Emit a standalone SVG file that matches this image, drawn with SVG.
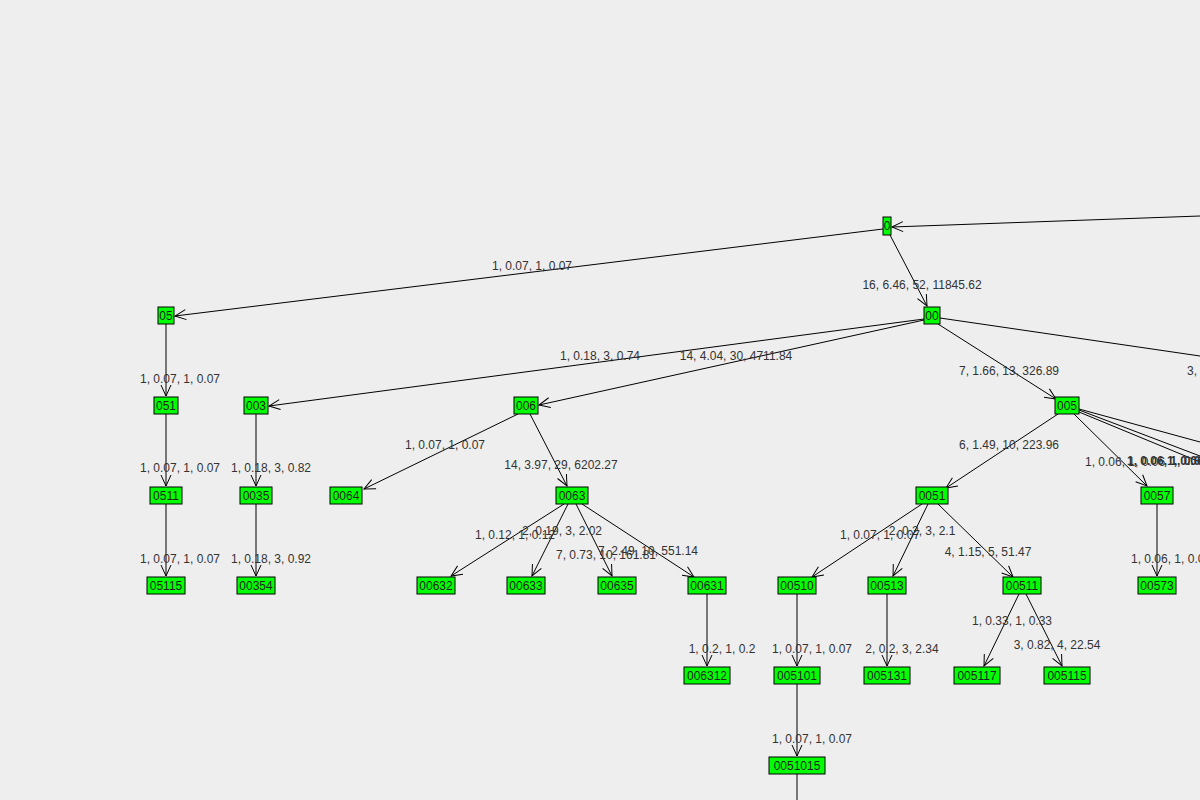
<svg xmlns="http://www.w3.org/2000/svg" width="1200" height="800" viewBox="0 0 1200 800">
<style>
.n rect{fill:#00ff00;stroke:#000;stroke-width:1}
.n text{font-family:"Liberation Sans",Arial,sans-serif;font-size:12px;fill:#222;text-anchor:middle}
.e line{stroke:#000;stroke-width:1}
.l{font-family:"Liberation Sans",Arial,sans-serif;font-size:12px;fill:#333;text-anchor:middle}
</style>
<defs>
<marker id="a" markerWidth="14" markerHeight="14" refX="12" refY="7" orient="auto" markerUnits="userSpaceOnUse">
<path d="M1,2 L12,7 L1,12" fill="none" stroke="#000" stroke-width="1"/>
</marker>
</defs>
<rect width="1200" height="800" fill="#eeeeee"/>
<g class="e">
<line x1="1200" y1="216" x2="892" y2="227" marker-end="url(#a)"/>
<line x1="883" y1="229" x2="175" y2="316" marker-end="url(#a)"/>
<line x1="890" y1="235" x2="927" y2="306" marker-end="url(#a)"/>
<line x1="166" y1="324" x2="166" y2="396" marker-end="url(#a)"/>
<line x1="924" y1="319" x2="269" y2="406" marker-end="url(#a)"/>
<line x1="924" y1="320" x2="539" y2="405" marker-end="url(#a)"/>
<line x1="938" y1="324" x2="1056" y2="399" marker-end="url(#a)"/>
<line x1="940" y1="318" x2="1200" y2="356"/>
<line x1="166" y1="414" x2="166" y2="486" marker-end="url(#a)"/>
<line x1="256" y1="414" x2="256" y2="486" marker-end="url(#a)"/>
<line x1="518" y1="414" x2="364" y2="489" marker-end="url(#a)"/>
<line x1="530" y1="414" x2="567" y2="486" marker-end="url(#a)"/>
<line x1="1058" y1="414" x2="946" y2="488" marker-end="url(#a)"/>
<line x1="1074" y1="414" x2="1147" y2="486" marker-end="url(#a)"/>
<line x1="1079" y1="412" x2="1200" y2="462"/>
<line x1="1079" y1="410" x2="1200" y2="456"/>
<line x1="1079" y1="409" x2="1200" y2="442"/>
<line x1="166" y1="504" x2="166" y2="576" marker-end="url(#a)"/>
<line x1="256" y1="504" x2="256" y2="576" marker-end="url(#a)"/>
<line x1="564" y1="504" x2="451" y2="576" marker-end="url(#a)"/>
<line x1="568" y1="504" x2="532" y2="576" marker-end="url(#a)"/>
<line x1="576" y1="504" x2="612" y2="576" marker-end="url(#a)"/>
<line x1="582" y1="504" x2="694" y2="577" marker-end="url(#a)"/>
<line x1="922" y1="504" x2="812" y2="577" marker-end="url(#a)"/>
<line x1="928" y1="504" x2="893" y2="576" marker-end="url(#a)"/>
<line x1="938" y1="504" x2="1013" y2="577" marker-end="url(#a)"/>
<line x1="1157" y1="504" x2="1157" y2="576" marker-end="url(#a)"/>
<line x1="707" y1="594" x2="707" y2="666" marker-end="url(#a)"/>
<line x1="797" y1="594" x2="797" y2="666" marker-end="url(#a)"/>
<line x1="887" y1="594" x2="887" y2="666" marker-end="url(#a)"/>
<line x1="1019" y1="594" x2="984" y2="666" marker-end="url(#a)"/>
<line x1="1026" y1="594" x2="1062" y2="666" marker-end="url(#a)"/>
<line x1="797" y1="684" x2="797" y2="756" marker-end="url(#a)"/>
<line x1="797" y1="774" x2="797" y2="800"/>
</g>
<g>
<text class="l" x="532" y="270">1, 0.07, 1, 0.07</text>
<text class="l" x="922" y="289">16, 6.46, 52, 11845.62</text>
<text class="l" x="600" y="360">1, 0.18, 3, 0.74</text>
<text class="l" x="736" y="360">14, 4.04, 30, 4711.84</text>
<text class="l" x="1009" y="375">7, 1.66, 13, 326.89</text>
<text class="l" x="1187" y="375" style="text-anchor:start">3, 1</text>
<text class="l" x="180" y="383">1, 0.07, 1, 0.07</text>
<text class="l" x="445" y="449">1, 0.07, 1, 0.07</text>
<text class="l" x="561" y="469">14, 3.97, 29, 6202.27</text>
<text class="l" x="1009" y="449">6, 1.49, 10, 223.96</text>
<text class="l" x="1085" y="466" style="text-anchor:start">1, 0.06, 1, 0.06</text>
<text class="l" x="1127" y="465" style="text-anchor:start;font-weight:bold">1, 0.06, 1, 0.06</text>
<text class="l" x="1167" y="465" style="text-anchor:start;font-weight:bold">1, 0.06</text>
<text class="l" x="180" y="472">1, 0.07, 1, 0.07</text>
<text class="l" x="271" y="472">1, 0.18, 3, 0.82</text>
<text class="l" x="515" y="539">1, 0.12, 1, 0.12</text>
<text class="l" x="562" y="535">2, 0.19, 3, 2.02</text>
<text class="l" x="606" y="559">7, 0.73, 10, 161.81</text>
<text class="l" x="648" y="555">7, 2.49, 10, 551.14</text>
<text class="l" x="880" y="539">1, 0.07, 1, 0.07</text>
<text class="l" x="922" y="535">2, 0.2, 3, 2.1</text>
<text class="l" x="988" y="556">4, 1.15, 5, 51.47</text>
<text class="l" x="1131" y="563" style="text-anchor:start">1, 0.06, 1, 0.06</text>
<text class="l" x="180" y="563">1, 0.07, 1, 0.07</text>
<text class="l" x="271" y="563">1, 0.18, 3, 0.92</text>
<text class="l" x="1012" y="625">1, 0.33, 1, 0.33</text>
<text class="l" x="1057" y="649">3, 0.82, 4, 22.54</text>
<text class="l" x="722" y="653">1, 0.2, 1, 0.2</text>
<text class="l" x="812" y="653">1, 0.07, 1, 0.07</text>
<text class="l" x="902" y="653">2, 0.2, 3, 2.34</text>
<text class="l" x="812" y="743">1, 0.07, 1, 0.07</text>
</g>
<g id="n0" class="n"><rect x="883" y="217" width="8" height="18"/><text x="887" y="230">0</text></g>
<g id="n05" class="n"><rect x="158" y="307" width="16" height="17"/><text x="166" y="320">05</text></g>
<g id="n00" class="n"><rect x="924" y="307" width="16" height="17"/><text x="932" y="320">00</text></g>
<g id="n051" class="n"><rect x="154" y="397" width="24" height="17"/><text x="166" y="410">051</text></g>
<g id="n003" class="n"><rect x="244" y="397" width="24" height="17"/><text x="256" y="410">003</text></g>
<g id="n006" class="n"><rect x="514" y="397" width="24" height="17"/><text x="526" y="410">006</text></g>
<g id="n005" class="n"><rect x="1055" y="397" width="24" height="17"/><text x="1067" y="410">005</text></g>
<g id="n0511" class="n"><rect x="150" y="487" width="32" height="17"/><text x="166" y="500">0511</text></g>
<g id="n0035" class="n"><rect x="240" y="487" width="32" height="17"/><text x="256" y="500">0035</text></g>
<g id="n0064" class="n"><rect x="330" y="487" width="32" height="17"/><text x="346" y="500">0064</text></g>
<g id="n0063" class="n"><rect x="556" y="487" width="32" height="17"/><text x="572" y="500">0063</text></g>
<g id="n0051" class="n"><rect x="916" y="487" width="32" height="17"/><text x="932" y="500">0051</text></g>
<g id="n0057" class="n"><rect x="1141" y="487" width="32" height="17"/><text x="1157" y="500">0057</text></g>
<g id="n05115a" class="n"><rect x="147" y="577" width="38" height="17"/><text x="166" y="590">05115</text></g>
<g id="n00354" class="n"><rect x="237" y="577" width="38" height="17"/><text x="256" y="590">00354</text></g>
<g id="n00632" class="n"><rect x="417" y="577" width="38" height="17"/><text x="436" y="590">00632</text></g>
<g id="n00633" class="n"><rect x="507" y="577" width="38" height="17"/><text x="526" y="590">00633</text></g>
<g id="n00635" class="n"><rect x="598" y="577" width="38" height="17"/><text x="617" y="590">00635</text></g>
<g id="n00631" class="n"><rect x="688" y="577" width="38" height="17"/><text x="707" y="590">00631</text></g>
<g id="n00510" class="n"><rect x="778" y="577" width="38" height="17"/><text x="797" y="590">00510</text></g>
<g id="n00513" class="n"><rect x="868" y="577" width="38" height="17"/><text x="887" y="590">00513</text></g>
<g id="n00511" class="n"><rect x="1003" y="577" width="38" height="17"/><text x="1022" y="590">00511</text></g>
<g id="n00573" class="n"><rect x="1138" y="577" width="38" height="17"/><text x="1157" y="590">00573</text></g>
<g id="n006312" class="n"><rect x="684" y="667" width="46" height="17"/><text x="707" y="680">006312</text></g>
<g id="n005101" class="n"><rect x="774" y="667" width="46" height="17"/><text x="797" y="680">005101</text></g>
<g id="n005131" class="n"><rect x="864" y="667" width="46" height="17"/><text x="887" y="680">005131</text></g>
<g id="n005117" class="n"><rect x="954" y="667" width="46" height="17"/><text x="977" y="680">005117</text></g>
<g id="n005115" class="n"><rect x="1044" y="667" width="46" height="17"/><text x="1067" y="680">005115</text></g>
<g id="n0051015" class="n"><rect x="769" y="757" width="56" height="17"/><text x="797" y="770">0051015</text></g>
</svg>
